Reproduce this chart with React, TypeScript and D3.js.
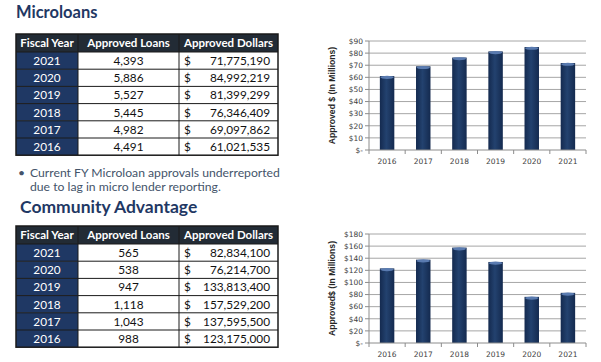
import React from "react";
import * as d3 from "d3";

const tableYears = ["2021", "2020", "2019", "2018", "2017", "2016"];
const tableHeaders = ["Fiscal Year", "Approved Loans", "Approved Dollars"];
const microLoans = [4393, 5886, 5527, 5445, 4982, 4491];
const microDollars = [71775190, 84992219, 81399299, 76346409, 69097862, 61021535];
const caLoans = [565, 538, 947, 1118, 1043, 988];
const caDollars = [82834100, 76214700, 133813400, 157529200, 137595500, 123175000];
const chartYears = ["2016", "2017", "2018", "2019", "2020", "2021"];
const microTicks = [0, 10, 20, 30, 40, 50, 60, 70, 80, 90];
const caTicks = [0, 20, 40, 60, 80, 100, 120, 140, 160, 180];
const noteLines = ["Current FY Microloan approvals underreported", "due to lag in micro lender reporting."];

const NAVY = "#1f3864";
const fmt = d3.format(",");

function Table({ x, y, loans, dollars }: { x: number; y: number; loans: number[]; dollars: number[] }) {
  const colW = [62, 101, 99];
  const headerH = 18;
  const rowH = 17.2;
  const xs = [x, x + colW[0], x + colW[0] + colW[1], x + colW[0] + colW[1] + colW[2]];
  const total = headerH + rowH * tableYears.length;
  const font = "Lato, 'Open Sans', sans-serif";
  return (
    <g fontFamily={font}>
      <rect x={x} y={y} width={xs[3] - x} height={headerH} fill="#222b35" />
      {tableHeaders.map((h, i) => (
        <text key={h} x={(xs[i] + xs[i + 1]) / 2} y={y + 13} textAnchor="middle" fill="#fff" fontWeight="bold" fontSize={11.5}>
          {h}
        </text>
      ))}
      {tableYears.map((yr, r) => {
        const ry = y + headerH + r * rowH;
        return (
          <g key={yr}>
            <rect x={xs[0]} y={ry} width={colW[0]} height={rowH} fill={NAVY} />
            <rect x={xs[1]} y={ry} width={colW[1] + colW[2]} height={rowH} fill="#fff" />
            <text x={(xs[0] + xs[1]) / 2} y={ry + 13} textAnchor="middle" fill="#fff" fontSize={11.8}>
              {yr}
            </text>
            <text x={(xs[1] + xs[2]) / 2} y={ry + 13} textAnchor="middle" fill="#111" fontSize={11.8}>
              {fmt(loans[r])}
            </text>
            <text x={xs[2] + 5} y={ry + 13} fill="#111" fontSize={11.8}>
              $
            </text>
            <text x={xs[3] - 8} y={ry + 13} textAnchor="end" fill="#111" fontSize={11.8}>
              {fmt(dollars[r])}
            </text>
            <line x1={x} x2={xs[3]} y1={ry} y2={ry} stroke="#1a1a1a" strokeWidth={1} />
          </g>
        );
      })}
      {[xs[1], xs[2]].map((lx, i) => (
        <line key={i} x1={lx} x2={lx} y1={y} y2={y + total} stroke="#1a1a1a" strokeWidth={1} />
      ))}
      <rect x={x} y={y} width={xs[3] - x} height={total} fill="none" stroke="#1a1a1a" strokeWidth={1.5} />
    </g>
  );
}

function BarChart({
  left, right, top, bottom, values, ticks, title, gid,
}: {
  left: number; right: number; top: number; bottom: number; values: number[]; ticks: number[]; title: string; gid: string;
}) {
  const x = d3.scaleBand<string>().domain(chartYears).range([left, right]).paddingInner(0.6).paddingOuter(0.3);
  const step = (right - left) / chartYears.length;
  const y = d3.scaleLinear().domain([0, ticks[ticks.length - 1]]).range([bottom, top]);
  const font = "'DejaVu Sans', Verdana, sans-serif";
  const bounds = d3.range(chartYears.length + 1).map((i) => left + i * step);
  return (
    <g fontFamily={font}>
      <defs>
        <linearGradient id={gid} x1="0" x2="1" y1="0" y2="0">
          <stop offset="0" stopColor="#142a4f" />
          <stop offset="0.45" stopColor="#23426f" />
          <stop offset="1" stopColor="#142a4f" />
        </linearGradient>
      </defs>
      {ticks.map((t) => (
        <g key={t}>
          {t > 0 && <line x1={left} x2={right} y1={y(t)} y2={y(t)} stroke="#a6a6a6" strokeWidth={1} />}
          <line x1={left - 4} x2={left} y1={y(t)} y2={y(t)} stroke="#8c8c8c" />
          <text x={left - 6} y={y(t) + 2.8} textAnchor="end" fontSize={7.5} fill="#404040">
            {t === 0 ? "$-" : `$${t}`}
          </text>
        </g>
      ))}
      {chartYears.map((yr, i) => {
        const bx = x(yr)!;
        const bw = x.bandwidth();
        const by = y(values[i]);
        return (
          <g key={yr}>
            <rect x={bx} y={by} width={bw} height={bottom - by} fill={`url(#${gid})`} />
            <ellipse cx={bx + bw / 2} cy={by + 1.2} rx={bw / 2 - 0.5} ry={1.6} fill="#5a7bb0" />
            <text x={bx + bw / 2} y={bottom + 14} textAnchor="middle" fontSize={7.5} fill="#404040">
              {yr}
            </text>
          </g>
        );
      })}
      <line x1={left} x2={left} y1={top} y2={bottom} stroke="#8c8c8c" />
      <line x1={left} x2={right} y1={bottom} y2={bottom} stroke="#8c8c8c" />
      {bounds.map((bx, i) => (
        <line key={i} x1={bx} x2={bx} y1={bottom} y2={bottom + 4} stroke="#8c8c8c" />
      ))}
      <text
        transform={`translate(${left - 34},${(top + bottom) / 2}) rotate(-90)`}
        textAnchor="middle"
        fontSize={8.6}
        fontWeight="bold"
        fontFamily="'Liberation Sans', Arial, sans-serif"
        fill="#262626"
      >
        {title}
      </text>
    </g>
  );
}

export default function App() {
  const titleFont = "Lato, 'Open Sans', sans-serif";
  return (
    <svg width={601} height={362} style={{ position: "absolute", left: 0, top: 0, background: "#fff" }}>
      <text x={16} y={18} fontFamily={titleFont} fontWeight="bold" fontSize={16.5} fill={NAVY}>
        Microloans
      </text>
      <Table x={16} y={34} loans={microLoans} dollars={microDollars} />
      <g fontFamily={titleFont} fontSize={12.2} fill="#44546a">
        <text x={18} y={177}>•</text>
        <text x={30} y={177}>{noteLines[0]}</text>
        <text x={30} y={191}>{noteLines[1]}</text>
      </g>
      <text x={20} y={213} fontFamily={titleFont} fontWeight="bold" fontSize={17.5} fill={NAVY}>
        Community Advantage
      </text>
      <Table x={16} y={226} loans={caLoans} dollars={caDollars} />
      <BarChart left={369} right={586} top={41} bottom={150} values={microDollars.slice().reverse().map((d) => d / 1e6)} ticks={microTicks} title="Approved $ (In Millions)" gid="g1" />
      <BarChart left={369} right={586} top={234} bottom={343} values={caDollars.slice().reverse().map((d) => d / 1e6)} ticks={caTicks} title="Approved$ (In Millions)" gid="g2" />
    </svg>
  );
}
